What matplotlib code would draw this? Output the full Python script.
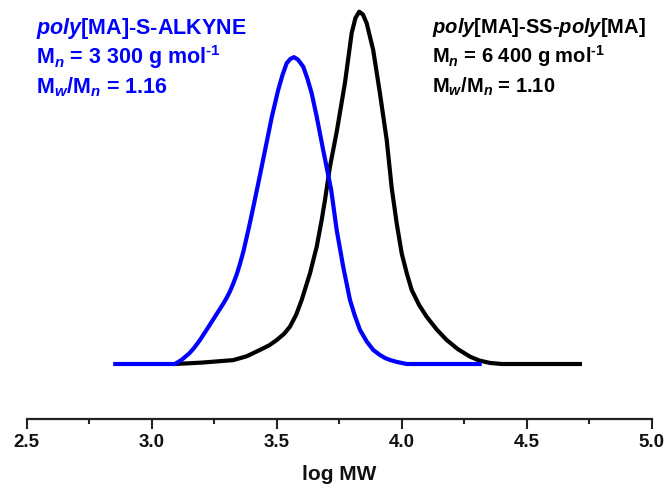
import matplotlib
matplotlib.use("Agg")
import matplotlib.pyplot as plt
from matplotlib.ticker import MultipleLocator

plt.rcParams["font.family"] = ["Liberation Sans", "DejaVu Sans"]
plt.rcParams["mathtext.fontset"] = "custom"
plt.rcParams["mathtext.rm"] = "Liberation Sans:bold"
plt.rcParams["mathtext.bf"] = "Liberation Sans:bold"
plt.rcParams["mathtext.it"] = "Liberation Sans:bold:italic"

# GPC traces: log MW vs normalised detector response
alkyne_logmw = [2.846, 3.093, 3.120, 3.150, 3.170, 3.193, 3.225, 3.260, 3.287,
                3.300, 3.313, 3.326, 3.340, 3.353, 3.367, 3.380, 3.393, 3.406,
                3.433, 3.460, 3.480, 3.506, 3.523, 3.540, 3.555, 3.569, 3.585,
                3.606, 3.622, 3.640, 3.660, 3.686, 3.718, 3.740, 3.766, 3.793,
                3.812, 3.833, 3.860, 3.886, 3.910, 3.933, 3.955, 3.980, 4.000,
                4.020, 4.320]
alkyne_signal = [0.0, 0.0, 0.012, 0.030, 0.046, 0.068, 0.103, 0.142, 0.172,
                 0.188, 0.206, 0.228, 0.254, 0.284, 0.320, 0.360, 0.401, 0.444,
                 0.536, 0.630, 0.700, 0.778, 0.820, 0.854, 0.866, 0.871, 0.864,
                 0.844, 0.812, 0.768, 0.702, 0.607, 0.494, 0.380, 0.276, 0.182,
                 0.138, 0.097, 0.064, 0.040, 0.027, 0.017, 0.011, 0.006, 0.003,
                 0.0, 0.0]

dimer_logmw = [3.093, 3.200, 3.326, 3.380, 3.433, 3.470, 3.500, 3.530, 3.553,
               3.578, 3.600, 3.633, 3.660, 3.680, 3.693, 3.713, 3.740, 3.773,
               3.800, 3.815, 3.830, 3.845, 3.860, 3.886, 3.913, 3.940, 3.960,
               3.980, 4.000, 4.020, 4.040, 4.070, 4.100, 4.140, 4.180, 4.225,
               4.273, 4.310, 4.353, 4.400, 4.721]
dimer_signal = [0.0, 0.004, 0.011, 0.022, 0.040, 0.053, 0.068, 0.086, 0.106,
                0.140, 0.182, 0.257, 0.333, 0.409, 0.465, 0.560, 0.659, 0.798,
                0.940, 0.982, 1.0, 0.992, 0.967, 0.891, 0.768, 0.636, 0.500,
                0.399, 0.314, 0.258, 0.210, 0.167, 0.134, 0.098, 0.068, 0.042,
                0.021, 0.010, 0.003, 0.0, 0.0]

alkyne_labels = [r"$\it{poly}$[MA]-S-ALKYNE",
                 r"M$_n$ = 3 300 g mol$^{\text{-1}}$",
                 r"M$_w$/M$_n$ = 1.16"]
dimer_labels = [r"$\it{poly}$[MA]-SS-$\it{poly}$[MA]",
                r"M$_n$ = 6 400 g mol$^{\text{-1}}$",
                r"M$_w$/M$_n$ = 1.10"]

fig = plt.figure(figsize=(6.64, 4.88), dpi=100)
ax = fig.add_axes([0.0402, 0.1424, 0.9413, 0.8576])

ax.plot(dimer_logmw, dimer_signal, color="black", lw=3.0,
        solid_joinstyle="round", solid_capstyle="butt", zorder=2)
ax.plot(alkyne_logmw, alkyne_signal, color="#0000ff", lw=3.0,
        solid_joinstyle="round", solid_capstyle="butt", zorder=3)

ax.set_xlim(2.5, 5.0)
ax.set_ylim(-0.1547, 1.0332)

for side in ("left", "right", "top"):
    ax.spines[side].set_visible(False)
ax.spines["bottom"].set_linewidth(1.6)
ax.spines["bottom"].set_color("#222222")
ax.set_yticks([])

ax.xaxis.set_major_locator(MultipleLocator(0.5))
ax.xaxis.set_minor_locator(MultipleLocator(0.25))
ax.tick_params(axis="x", which="major", direction="out", length=7.2,
               width=1.5, color="#222222", pad=4)
ax.tick_params(axis="x", which="minor", direction="out", length=3.6,
               width=1.5, color="#222222")
ax.set_xticks([2.5, 3.0, 3.5, 4.0, 4.5, 5.0])
ax.set_xticklabels(["2.5", "3.0", "3.5", "4.0", "4.5", "5.0"],
                   fontsize=13.5, fontweight="bold", color="#111111")
ax.set_xlabel("log MW", fontsize=15, fontweight="bold", labelpad=10,
              color="#111111")

# annotations
for i, s in enumerate(alkyne_labels):
    fig.text(36 / 664, 1 - (34 + 29.8 * i) / 488, s, color="#0000ff",
             fontsize=15.5, fontweight="bold", ha="left", va="baseline")
for i, s in enumerate(dimer_labels):
    fig.text(432 / 664, 1 - (33 + 29.8 * i) / 488, s, color="black",
             fontsize=14.5, fontweight="bold", ha="left", va="baseline")

fig.savefig("out.png", dpi=100)
